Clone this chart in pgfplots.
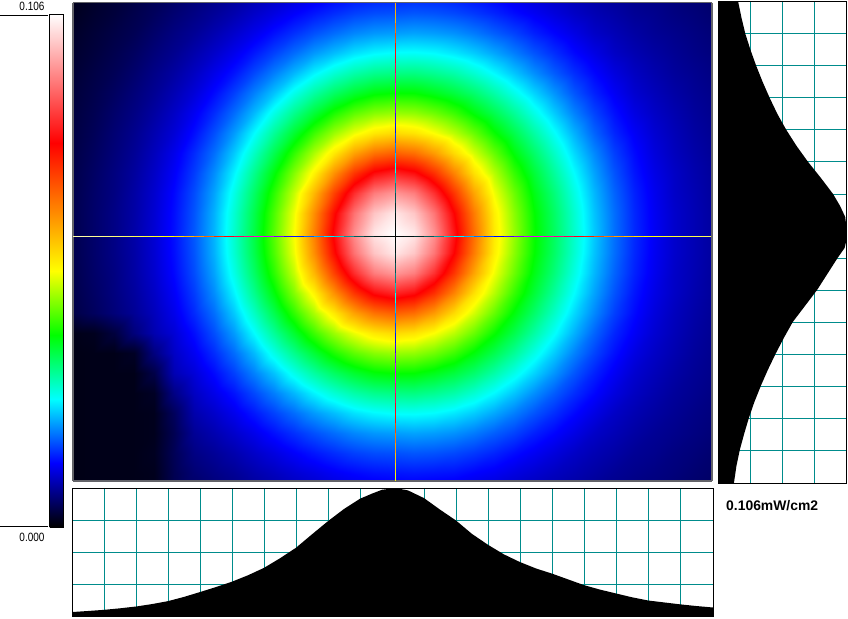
\documentclass[border=0pt]{standalone}
\usepackage{fontspec}
\setmainfont{Liberation Sans}
\usepackage{pgfplots}
\pgfplotsset{compat=1.18}
\definecolor{gridteal}{RGB}{0,140,140}
\definecolor{framegray}{RGB}{100,100,105}
\pgfplotsset{
  colormap={beam}{rgb255(0cm)=(0,0,0) rgb255(1cm)=(0,0,255) rgb255(2cm)=(0,255,255) rgb255(3cm)=(0,255,0) rgb255(4cm)=(255,255,0) rgb255(6cm)=(255,0,0) rgb255(8cm)=(255,255,255)},
  colormap={beaminv}{rgb255(0cm)=(255,255,255) rgb255(1cm)=(255,255,0) rgb255(2cm)=(255,0,0) rgb255(3cm)=(255,0,255) rgb255(4cm)=(0,0,255) rgb255(6cm)=(0,255,255) rgb255(8cm)=(0,0,0)},
  panel/.style={scale only axis, anchor=south west, enlargelimits=false,
    ticks=none, axis line style={line width=1pt}},
  profile/.style={panel, grid=major, tick style={draw=none}, ticks=major,
    xticklabels={}, yticklabels={},
    major grid style={gridteal, line width=1pt}},
}
\begin{document}
\begin{tikzpicture}
\path[use as bounding box] (0,0) rectangle (848pt,618pt);

% colour scale
\begin{axis}[panel, at={(49.5pt,90.5pt)}, width=14pt, height=513pt,
    xmin=0, xmax=1, ymin=0, ymax=1, view={0}{90},
    colormap name=beam, point meta min=0, point meta max=1, axis on top]
\addplot3[surf, shader=interp, mesh/cols=2] coordinates {
 (0,0,0) (1,0,0)
 (0,0.125,0.125) (1,0.125,0.125)
 (0,0.25,0.25) (1,0.25,0.25)
 (0,0.375,0.375) (1,0.375,0.375)
 (0,0.5,0.5) (1,0.5,0.5)
 (0,0.75,0.75) (1,0.75,0.75)
 (0,1,1) (1,1,1)
};
\end{axis}
\draw[line width=1pt] (0,602.5pt) -- (48pt,602.5pt);
\draw[line width=1pt] (0,91.5pt) -- (48pt,91.5pt);
\node[anchor=center] at (32pt,612pt) {\fontsize{10}{12}\selectfont\scalebox{1}[1.2]{0.106}};
\node[anchor=center] at (32pt,81pt) {\fontsize{10}{12}\selectfont\scalebox{1}[1.2]{0.000}};

% beam image, 34 columns by 26 rows
\begin{axis}[panel, at={(72.75pt,137pt)}, width=639pt, height=478.5pt,
    xmin=72.75, xmax=711.75, ymin=2.5, ymax=481, y dir=reverse, view={0}{90},
    colormap name=beam, point meta min=0, point meta max=1, axis on top,
    axis line style={draw=framegray, line width=1.5pt}]
\addplot3[surf, shader=interp, mesh/cols=34] table[row sep=\\, header=false,
    x expr={54+20*mod(\coordindex,34)}, y expr={-7+20*floor(\coordindex/34)}, z index=0] {
.008\\.013\\.019\\.026\\.032\\.040\\.047\\.056\\.065\\.073\\.084\\.093\\.103\\.111\\.120\\.127\\.132\\.134\\.136\\.134\\.132\\.125\\.119\\.110\\.102\\.094\\.087\\.080\\.073\\.068\\.064\\.060\\.055\\.051\\
.010\\.016\\.023\\.029\\.037\\.045\\.055\\.064\\.074\\.085\\.098\\.110\\.123\\.135\\.146\\.156\\.162\\.164\\.167\\.165\\.160\\.152\\.142\\.130\\.119\\.108\\.097\\.088\\.081\\.073\\.069\\.063\\.059\\.054\\
.013\\.020\\.027\\.034\\.041\\.052\\.063\\.073\\.086\\.100\\.115\\.132\\.148\\.164\\.178\\.191\\.199\\.202\\.205\\.202\\.196\\.185\\.171\\.157\\.140\\.126\\.112\\.098\\.089\\.080\\.073\\.068\\.063\\.058\\
.016\\.023\\.030\\.038\\.047\\.059\\.070\\.084\\.099\\.116\\.136\\.157\\.178\\.200\\.218\\.236\\.247\\.252\\.253\\.249\\.239\\.225\\.207\\.187\\.166\\.147\\.128\\.112\\.097\\.087\\.079\\.072\\.066\\.061\\
.019\\.026\\.034\\.042\\.053\\.066\\.079\\.095\\.114\\.134\\.160\\.187\\.215\\.245\\.271\\.292\\.306\\.311\\.312\\.304\\.292\\.272\\.248\\.222\\.195\\.170\\.147\\.127\\.109\\.095\\.085\\.076\\.070\\.064\\
.021\\.029\\.037\\.047\\.059\\.072\\.088\\.106\\.129\\.156\\.188\\.221\\.260\\.296\\.327\\.352\\.370\\.376\\.375\\.362\\.345\\.322\\.293\\.261\\.229\\.198\\.167\\.141\\.120\\.102\\.091\\.081\\.073\\.067\\
.024\\.031\\.040\\.052\\.064\\.079\\.097\\.119\\.146\\.178\\.216\\.262\\.306\\.348\\.388\\.420\\.441\\.449\\.446\\.429\\.404\\.370\\.337\\.301\\.262\\.225\\.189\\.158\\.132\\.111\\.097\\.086\\.076\\.069\\
.025\\.033\\.043\\.056\\.069\\.086\\.105\\.131\\.163\\.201\\.249\\.301\\.352\\.404\\.451\\.491\\.522\\.536\\.526\\.499\\.466\\.425\\.379\\.338\\.295\\.253\\.212\\.174\\.143\\.121\\.103\\.090\\.079\\.071\\
.027\\.035\\.046\\.059\\.073\\.092\\.115\\.145\\.179\\.224\\.279\\.337\\.398\\.459\\.521\\.591\\.638\\.657\\.642\\.598\\.535\\.478\\.424\\.370\\.324\\.278\\.232\\.192\\.156\\.129\\.108\\.093\\.082\\.073\\
.028\\.037\\.049\\.062\\.077\\.097\\.122\\.154\\.194\\.245\\.306\\.370\\.439\\.511\\.608\\.698\\.761\\.784\\.763\\.704\\.621\\.529\\.464\\.401\\.348\\.299\\.250\\.205\\.166\\.135\\.113\\.097\\.085\\.075\\
.029\\.038\\.051\\.063\\.080\\.101\\.128\\.162\\.205\\.262\\.326\\.396\\.471\\.571\\.687\\.793\\.871\\.898\\.873\\.797\\.698\\.588\\.494\\.427\\.365\\.316\\.264\\.215\\.174\\.141\\.117\\.098\\.087\\.076\\
.030\\.039\\.052\\.065\\.081\\.103\\.131\\.166\\.212\\.272\\.338\\.412\\.492\\.611\\.741\\.861\\.942\\.976\\.944\\.865\\.750\\.628\\.515\\.442\\.376\\.326\\.273\\.221\\.179\\.144\\.119\\.100\\.088\\.077\\
.030\\.039\\.052\\.065\\.082\\.104\\.132\\.168\\.214\\.275\\.342\\.418\\.499\\.625\\.761\\.888\\.974\\1\\.976\\.892\\.769\\.642\\.521\\.448\\.379\\.329\\.275\\.224\\.180\\.145\\.120\\.100\\.088\\.077\\
.030\\.039\\.052\\.065\\.081\\.103\\.131\\.166\\.212\\.272\\.338\\.412\\.492\\.611\\.741\\.861\\.942\\.976\\.944\\.865\\.750\\.628\\.515\\.442\\.376\\.326\\.273\\.221\\.179\\.144\\.119\\.100\\.088\\.077\\
.029\\.038\\.051\\.063\\.080\\.101\\.128\\.162\\.205\\.262\\.326\\.396\\.471\\.571\\.687\\.793\\.871\\.898\\.873\\.797\\.698\\.588\\.494\\.427\\.365\\.316\\.264\\.215\\.174\\.141\\.117\\.098\\.087\\.076\\
.028\\.037\\.049\\.062\\.077\\.097\\.122\\.154\\.194\\.245\\.306\\.370\\.439\\.511\\.608\\.698\\.761\\.784\\.763\\.704\\.621\\.529\\.464\\.401\\.348\\.299\\.250\\.205\\.166\\.135\\.113\\.097\\.085\\.075\\
.027\\.035\\.046\\.059\\.073\\.092\\.115\\.145\\.179\\.224\\.279\\.337\\.398\\.459\\.521\\.591\\.638\\.657\\.642\\.598\\.535\\.478\\.424\\.370\\.324\\.278\\.232\\.192\\.156\\.129\\.108\\.093\\.082\\.073\\
.012\\.012\\.015\\.030\\.060\\.086\\.105\\.131\\.163\\.201\\.249\\.301\\.352\\.404\\.451\\.491\\.522\\.536\\.526\\.499\\.466\\.425\\.379\\.338\\.295\\.253\\.212\\.174\\.143\\.121\\.103\\.090\\.079\\.071\\
.010\\.010\\.012\\.012\\.018\\.062\\.097\\.119\\.146\\.178\\.216\\.262\\.306\\.348\\.388\\.420\\.441\\.449\\.446\\.429\\.404\\.370\\.337\\.301\\.262\\.225\\.189\\.158\\.132\\.111\\.097\\.086\\.076\\.069\\
.010\\.010\\.012\\.012\\.012\\.035\\.088\\.106\\.129\\.156\\.188\\.221\\.260\\.296\\.327\\.352\\.370\\.376\\.375\\.362\\.345\\.322\\.293\\.261\\.229\\.198\\.167\\.141\\.120\\.102\\.091\\.081\\.073\\.067\\
.010\\.010\\.012\\.012\\.012\\.018\\.065\\.095\\.114\\.134\\.160\\.187\\.215\\.245\\.271\\.292\\.306\\.311\\.312\\.304\\.292\\.272\\.248\\.222\\.195\\.170\\.147\\.127\\.109\\.095\\.085\\.076\\.070\\.064\\
.010\\.010\\.012\\.012\\.012\\.014\\.045\\.084\\.099\\.116\\.136\\.157\\.178\\.200\\.218\\.236\\.247\\.252\\.253\\.249\\.239\\.225\\.207\\.187\\.166\\.147\\.128\\.112\\.097\\.087\\.079\\.072\\.066\\.061\\
.010\\.010\\.012\\.012\\.012\\.014\\.040\\.073\\.086\\.100\\.115\\.132\\.148\\.164\\.178\\.191\\.199\\.202\\.205\\.202\\.196\\.185\\.171\\.157\\.140\\.126\\.112\\.098\\.089\\.080\\.073\\.068\\.063\\.058\\
.010\\.010\\.012\\.012\\.012\\.016\\.042\\.064\\.074\\.085\\.098\\.110\\.123\\.135\\.146\\.156\\.162\\.164\\.167\\.165\\.160\\.152\\.142\\.130\\.119\\.108\\.097\\.088\\.081\\.073\\.069\\.063\\.059\\.054\\
.008\\.010\\.012\\.012\\.012\\.014\\.040\\.056\\.065\\.073\\.084\\.093\\.103\\.111\\.120\\.127\\.132\\.134\\.136\\.134\\.132\\.125\\.119\\.110\\.102\\.094\\.087\\.080\\.073\\.068\\.064\\.060\\.055\\.051\\
.005\\.010\\.012\\.012\\.012\\.014\\.040\\.047\\.056\\.063\\.072\\.079\\.087\\.093\\.100\\.106\\.109\\.111\\.111\\.110\\.108\\.103\\.099\\.093\\.088\\.083\\.078\\.071\\.067\\.062\\.060\\.055\\.051\\.048\\
};
\end{axis}

% cross hair, coloured as the complement of the image
\begin{axis}[panel, at={(72.75pt,137pt)}, width=639pt, height=478.5pt,
    xmin=72.75, xmax=711.75, ymin=2.5, ymax=481, y dir=reverse, hide axis,
    colormap name=beaminv, point meta min=0, point meta max=1]
\addplot[mesh, line width=1pt, point meta=explicit] table[meta index=2] {
395.5 3 .148
395.5 23 .183
395.5 33 .202
395.5 43 .227
395.5 53 .252
395.5 63 .281
395.5 73 .311
395.5 83 .343
395.5 93 .376
395.5 103 .412
395.5 113 .449
395.5 123 .492
395.5 133 .536
395.5 143 .596
395.5 153 .657
395.5 163 .720
395.5 173 .784
395.5 183 .841
395.5 193 .898
395.5 203 .937
395.5 213 .976
395.5 223 .988
395.5 233 1
395.5 243 .988
395.5 253 .976
395.5 263 .937
395.5 273 .898
395.5 283 .841
395.5 293 .784
395.5 303 .720
395.5 313 .657
395.5 323 .596
395.5 333 .536
395.5 343 .492
395.5 353 .449
395.5 363 .412
395.5 373 .376
395.5 383 .343
395.5 393 .311
395.5 403 .281
395.5 413 .252
395.5 423 .227
395.5 433 .202
395.5 443 .183
395.5 453 .164
395.5 463 .149
395.5 473 .134
395.5 481 .125
};
\addplot[mesh, line width=1pt, point meta=explicit] table[meta index=2] {
73 236.3 .035
84 236.3 .045
94 236.3 .052
104 236.3 .058
114 236.3 .065
124 236.3 .073
134 236.3 .082
144 236.3 .093
154 236.3 .104
164 236.3 .118
174 236.3 .132
184 236.3 .150
194 236.3 .168
204 236.3 .191
214 236.3 .214
224 236.3 .245
234 236.3 .275
244 236.3 .308
254 236.3 .342
264 236.3 .380
274 236.3 .418
284 236.3 .458
294 236.3 .499
304 236.3 .562
314 236.3 .625
324 236.3 .693
334 236.3 .761
344 236.3 .825
354 236.3 .888
364 236.3 .931
374 236.3 .974
384 236.3 .987
394 236.3 1
404 236.3 .988
414 236.3 .976
424 236.3 .934
434 236.3 .892
444 236.3 .830
454 236.3 .769
464 236.3 .705
474 236.3 .642
484 236.3 .580
494 236.3 .521
504 236.3 .484
514 236.3 .448
524 236.3 .413
534 236.3 .379
544 236.3 .354
554 236.3 .329
564 236.3 .302
574 236.3 .275
584 236.3 .250
594 236.3 .224
604 236.3 .202
614 236.3 .180
624 236.3 .162
634 236.3 .145
644 236.3 .132
654 236.3 .120
664 236.3 .110
674 236.3 .100
684 236.3 .094
694 236.3 .088
704 236.3 .082
711 236.3 .077
};
\end{axis}

% horizontal profile
\begin{axis}[profile, at={(72.5pt,1.5pt)}, width=641pt, height=128pt,
    xmin=72.5, xmax=713.5, ymin=0, ymax=1,
    xtick={104,136,...,680}, ytick={0.25,0.5,0.75}]
\addplot[fill=black, draw=none] table {
72.5 0
72.5 .035
88 .043
104 .052
120 .064
136 .078
152 .097
168 .120
184 .153
200 .191
216 .230
232 .272
248 .322
264 .380
280 .455
296 .537
312 .642
328 .745
344 .840
360 .920
372 .960
382 .990
392 1
398 1
408 .985
424 .925
440 .835
456 .750
472 .645
488 .560
504 .485
520 .425
536 .375
552 .335
568 .290
584 .245
600 .210
616 .180
632 .150
648 .125
664 .110
680 .095
696 .082
713.5 .070
713.5 0
};
\end{axis}

% vertical profile
\begin{axis}[profile, at={(718.5pt,134.5pt)}, width=128pt, height=481.5pt,
    xmin=0, xmax=1, ymin=2, ymax=483.5, y dir=reverse,
    xtick={0.25,0.5,0.75}, ytick={34,66,...,450}]
\addplot[fill=black, draw=none] table {
0 2
.154 2
.180 18
.210 34
.250 50
.295 66
.345 82
.400 98
.460 114
.530 130
.610 146
.700 162
.800 178
.895 194
.950 206
.990 217
1 228
1 240
.985 248
.930 258
.850 274
.770 290
.675 306
.580 322
.510 338
.445 354
.385 370
.330 386
.280 402
.237 418
.200 434
.166 450
.140 466
.120 483.5
0 483.5
};
\end{axis}

\node[anchor=west, inner sep=0pt] at (726pt,112pt) {\fontsize{13.9}{16}\selectfont\bfseries 0.106mW/cm2};
\end{tikzpicture}
\end{document}
